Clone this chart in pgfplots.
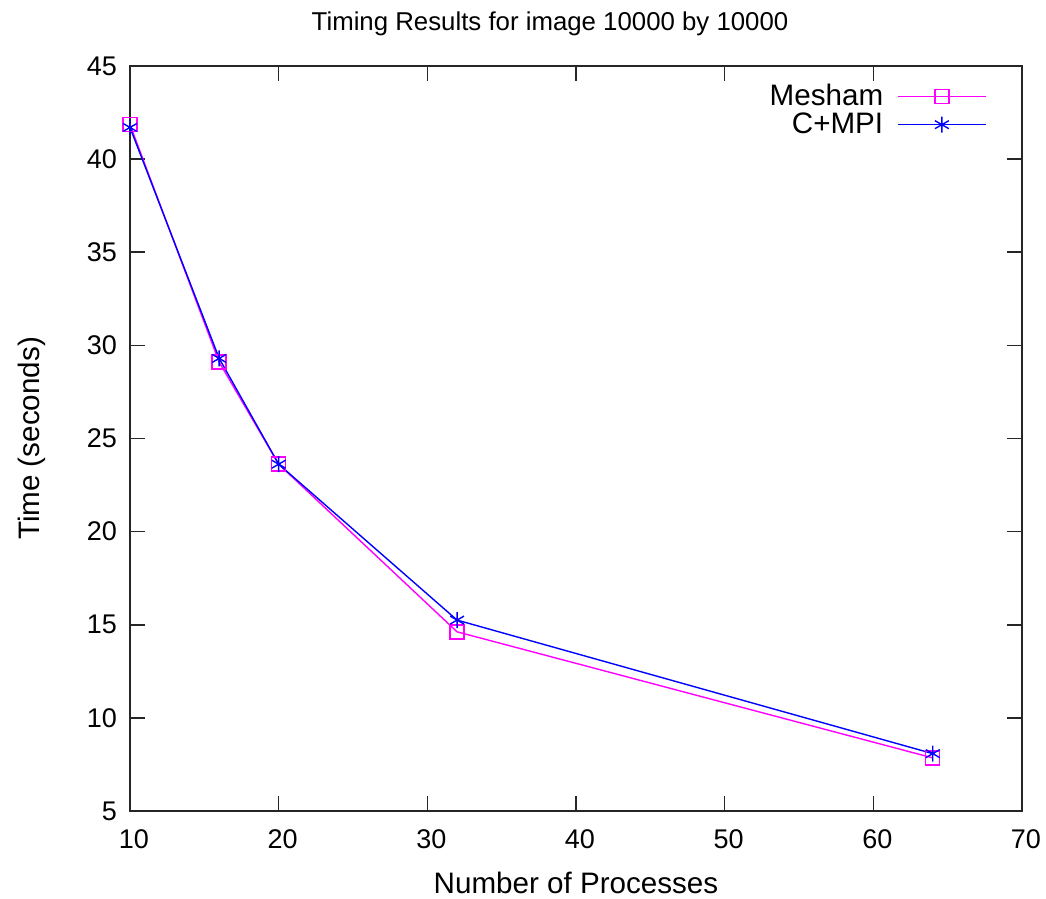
\documentclass[border=0pt]{standalone}
\usepackage{fontspec}
\setmainfont{Liberation Sans}
\usepackage{pgfplots}
\pgfplotsset{compat=1.18}
\usetikzlibrary{calc}
\begin{document}
\begin{tikzpicture}
\begin{axis}[
  scale only axis,
  width=446pt, height=372.5pt,
  xmin=10, xmax=70, ymin=5, ymax=45,
  xtick={10,20,...,70}, ytick={5,10,...,45},
  tick align=inside, major tick length=7.5pt,
  axis line style={line width=0.8pt, black!85},
  every tick/.style={black!85, line width=0.8pt},
  /pgf/number format/assume math mode=true,
  tick label style={font=\fontsize{13.5}{16}\selectfont},
  xticklabel style={yshift=-6pt, xshift=2pt},
  yticklabel style={xshift=-3pt},
  label style={font=\fontsize{14.8}{18}\selectfont},
  xlabel={Number of Processes},
  xlabel style={at={(axis description cs:0.5,-0.1101)}, anchor=base},
  ylabel={Time (seconds)},
  ylabel style={at={(axis description cs:-0.102,0.5)}, anchor=base},
  title={Timing Results for image 10000 by 10000},
  title style={font=\fontsize{12.9}{15}\selectfont, at={(axis description cs:0.4709,1.032)}, anchor=base},
  legend style={draw=none, fill=none, at={(1,1)}, anchor=north east, xshift=-14.5pt, yshift=-5pt,
    font=\fontsize{14.8}{18}\selectfont, row sep=-2pt},
  legend cell align=right,
  legend plot pos=right,
  legend image code/.code={\path (0pt,0pt); \draw[mark repeat=2,mark phase=2,#1] plot coordinates {(5pt,0pt) (27pt,0pt) (49pt,0pt)};},
]
\coordinate (ll) at (rel axis cs:0,0);
\coordinate (ur) at (rel axis cs:1,1);
\addplot[color={rgb,255:red,255;green,0;blue,255}, line width=0.7pt, mark=square, mark size=3.5pt, mark options={solid}]
  coordinates {(10,41.85) (16,29.1) (20,23.62) (32,14.62) (64,7.85)};
\addlegendentry{Mesham}
\addplot[color={rgb,255:red,0;green,0;blue,255}, line width=0.7pt, mark=asterisk, mark size=4pt, mark options={solid}]
  coordinates {(10,41.7) (16,29.3) (20,23.62) (32,15.25) (64,8.08)};
\addlegendentry{C+MPI}
\end{axis}
\pgfresetboundingbox
\useasboundingbox ($(ll)+(-65pt,-44pt)$) rectangle ($(ur)+(12pt,33pt)$);
\end{tikzpicture}
\end{document}
